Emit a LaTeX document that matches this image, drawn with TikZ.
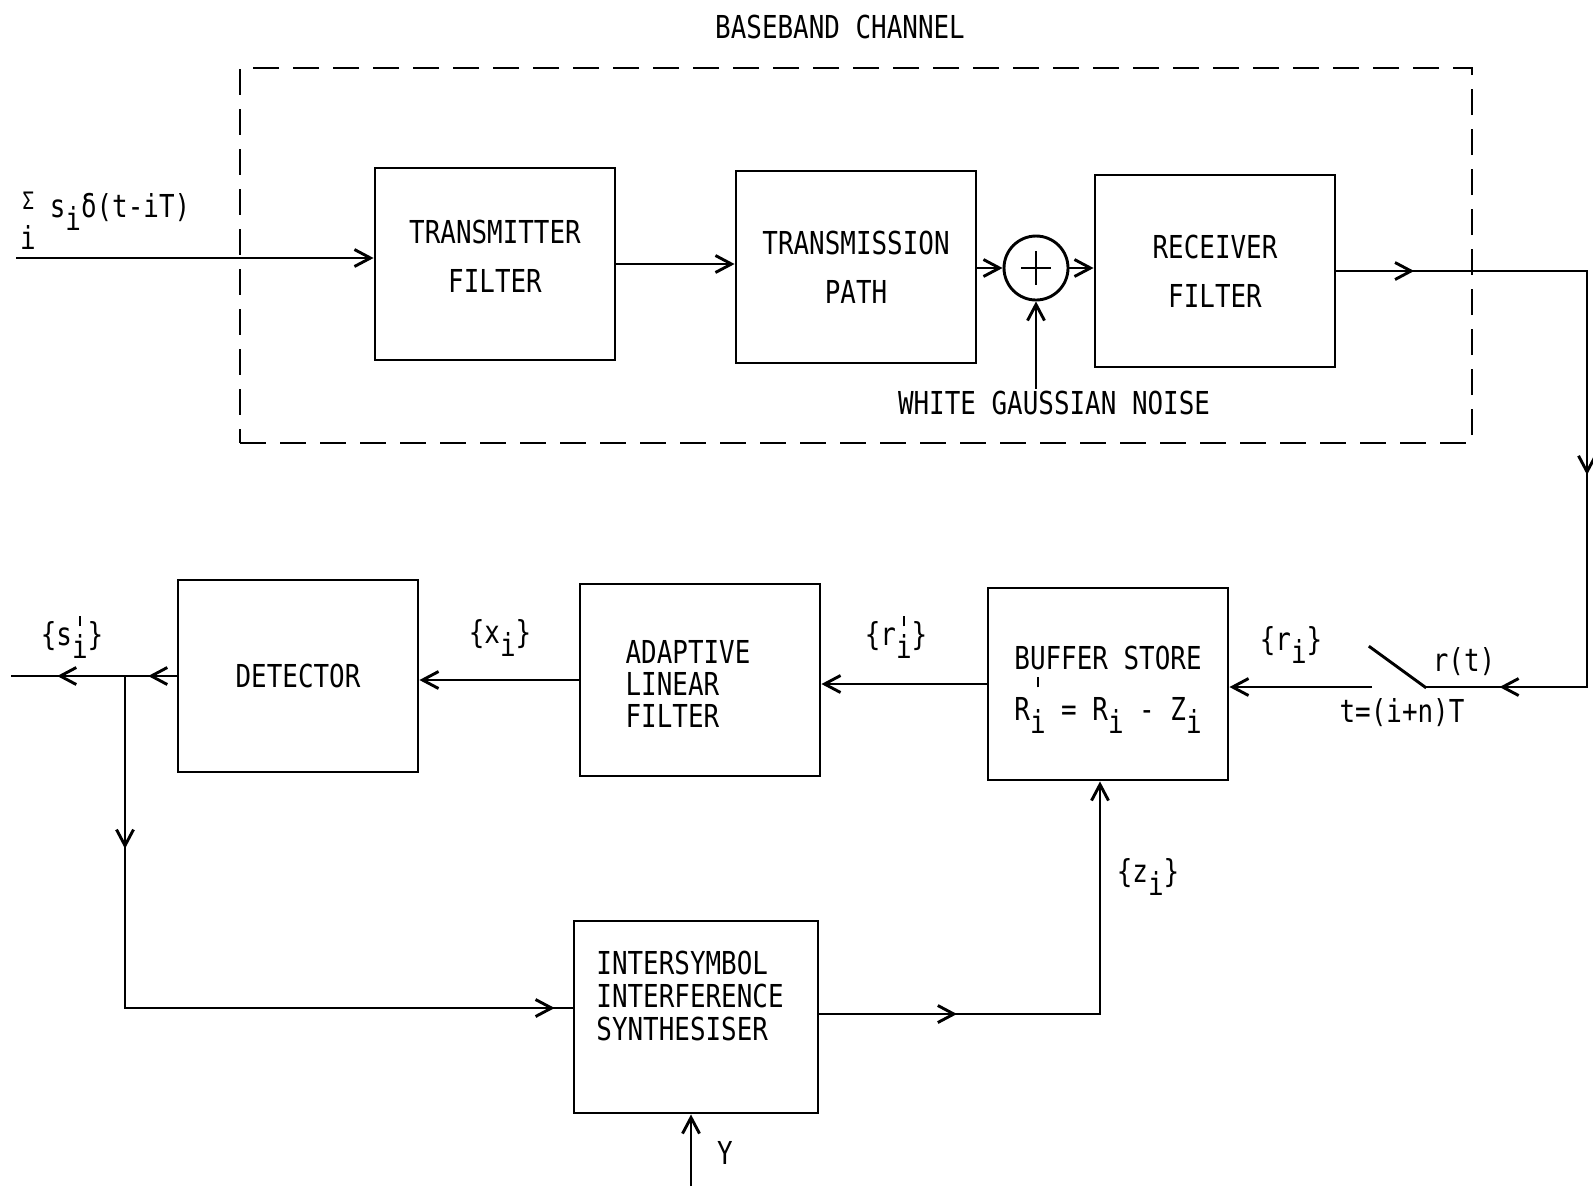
\documentclass[tikz,border=0pt]{standalone}
\usepackage{fontspec}
\newfontfamily\tw[FakeStretch=0.82]{DejaVu Sans Mono}
\usetikzlibrary{arrows.meta,decorations.markings}
\newcommand\ssub[1]{\raisebox{-0.42em}{#1}}
\newcommand\psub[2][0.6em]{\setbox0\hbox{#2}\rlap{\hbox to \wd0{\hss\smash{\raisebox{#1}{\rule{0.08em}{0.32em}}}\hss}}\raisebox{-0.42em}{\box0}}
\begin{document}
\begin{tikzpicture}[x=0.5pt,y=-0.5pt,
  every node/.style={font=\tw\fontsize{15.8pt}{15pt}\selectfont, inner sep=1pt},
  blk/.style={draw, line width=1.45pt, minimum width=120pt, minimum height=96pt, align=center, inner sep=0pt},
  ln/.style={line width=1.45pt, line cap=rect},
  tip/.style={line width=1.45pt, -{Straight Barb[length=8pt,width=8.5pt]}},
  midarrow/.style={line width=1.45pt, line cap=rect, postaction={decorate}, decoration={markings, mark=at position #1 with {\arrow{Straight Barb[length=8pt,width=8.5pt]}}}},
  chanbox/.style={draw, line width=1.45pt, dash pattern=on 13pt off 7pt, minimum width=616pt, minimum height=187.5pt, inner sep=0pt}
]
\useasboundingbox (0,0) rectangle (1593,1191);

% top: baseband channel
\node[chanbox] (chan) at (856,255.5) {};
\node (lbase) at (840,27) {BASEBAND CHANNEL};
\node[blk] (tf) at (495,264) {};
\node[align=center, yshift=4pt] (tftxt) at (tf.center) {TRANSMITTER\\[9.5pt]FILTER};
\node[blk] (tp) at (856,267) {TRANSMISSION\\[9.5pt]PATH};
\node[draw, circle, line width=1.45pt, minimum size=32pt, inner sep=0pt] (sum) at (1036,268) {};
\draw[ln] ([xshift=-7pt]sum.center) -- ([xshift=7pt]sum.center);
\draw[ln] ([yshift=-8pt]sum.center) -- ([yshift=8pt]sum.center);
\node[blk] (rf) at (1215,271) {RECEIVER\\[9.5pt]FILTER};
\node (lnoise) at (1054,403) {WHITE GAUSSIAN NOISE};

% input label
\node[anchor=base west] (lsum) at (20,217) {\raisebox{4pt}{\fontsize{12pt}{12pt}\selectfont Σ} s\ssub{i}δ(t-iT)};
\node (lsumi) at (28,237) {i};

% lower row
\node[blk] (bs) at (1108,684) {};
\node[align=center, yshift=-3pt] (bstxt) at (bs.center) {BUFFER STORE\\[10.5pt]R\psub[1.05em]{i} = R\ssub{i} - Z\ssub{i}};
\node[blk] (alf) at (700,680) {};
\node[align=left, xshift=-6pt, yshift=-2pt] (alftxt) at (alf.center) {ADAPTIVE\\[1.2pt]LINEAR\\[1.2pt]FILTER};
\node[blk] (det) at (298,676) {DETECTOR};
\node[blk, minimum width=122pt] (isi) at (696,1017) {};
\node[align=left, xshift=-3pt, yshift=10.5pt] (isitxt) at (isi.center) {INTERSYMBOL\\[1.5pt]INTERFERENCE\\[1.5pt]SYNTHESISER};

% labels
\node (lri) at (1291,645) {\{r\ssub{i}\}};
\node (lrt) at (1464,662) {r(t)};
\node (lt) at (1402,713) {t=(i+n)T};
\node (lrp) at (896,640) {\{r\psub{i}\}};
\node (lx) at (500,638) {\{x\ssub{i}\}};
\node (ls) at (72,640) {\{s\psub{i}\}};
\node (lz) at (1148,877) {\{z\ssub{i}\}};
\node (ly) at (725,1153) {Y};

% coordinates
\coordinate (in) at (16,258);
\coordinate (ne) at (1587,271);
\coordinate (se) at (1587,687);
\coordinate (swr) at (1425,687);
\coordinate (swl) at (1372,687);
\coordinate (swt) at (1370,647);
\coordinate (br) at (125,676);
\coordinate (out) at (12,676);
\coordinate (bd) at (125,1008);
\coordinate (up) at (1100,1014);
\coordinate (yin) at (691,1186);

% connectors top
\draw[tip] (in) -- (in -| tf.west);
\draw[tip] (tf.east) -- (tf.east -| tp.west);
\draw[tip] (sum.west -| tp.east) -- (sum.west);
\draw[tip] (sum.east) -- (sum.east -| rf.west);
\draw[tip] (sum |- lnoise.north) -- (sum.south);
\draw[midarrow=0.31] (rf.east) -- (ne);
\draw[midarrow=0.49] (ne) -- (se);
\draw[midarrow=0.54] (se) -- (swr);
\draw[ln] (swr) -- (swt);
\draw[tip] (swl) -- (swl -| bs.east);

% connectors bottom
\draw[tip] (bs.west) -- (bs.west -| alf.east);
\draw[tip] (alf.west) -- (alf.west -| det.east);
\draw[midarrow=0.55] (det.west) -- (br);
\draw[midarrow=0.6] (br) -- (out);
\draw[midarrow=0.52] (br) -- (bd);
\draw[midarrow=0.96] (bd) -- (bd -| isi.west);
\draw[midarrow=0.49] (up -| isi.east) -- (up);
\draw[tip] (up) -- (up |- bs.south);
\draw[tip] (yin) -- (yin |- isi.south);
\end{tikzpicture}
\end{document}
